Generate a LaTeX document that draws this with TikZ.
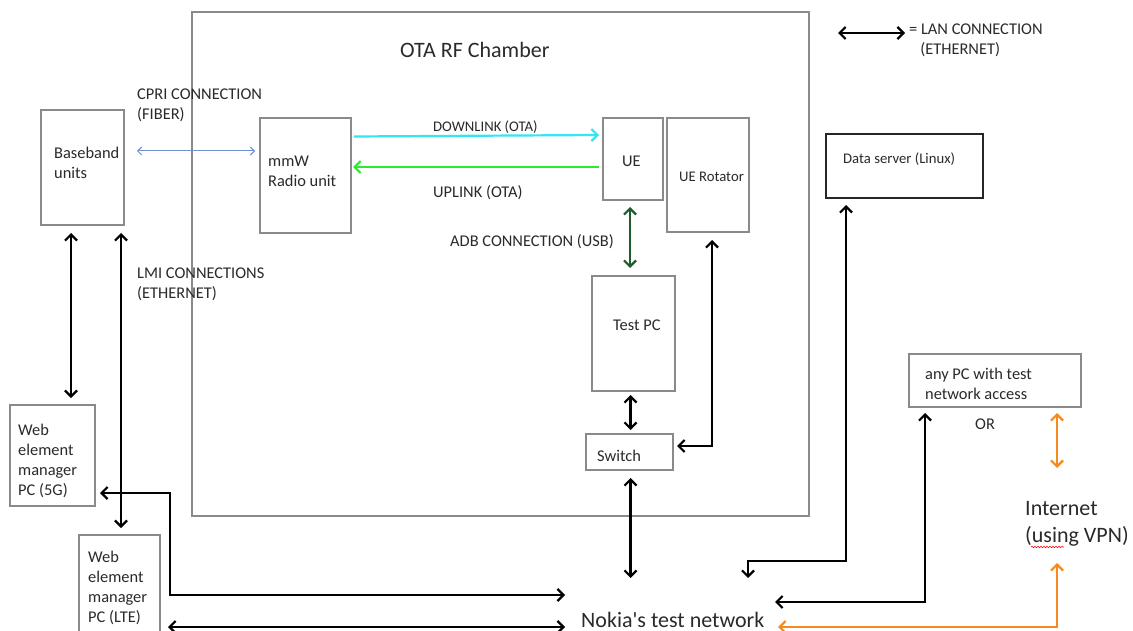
\documentclass[tikz,border=0pt]{standalone}
\usepackage{fontspec}
\setmainfont{Carlito}
\newfontfamily\plainfont{Carlito}
\usetikzlibrary{arrows.meta,calc,decorations.pathmorphing}
\definecolor{boxgray}{HTML}{8A8A8A}
\definecolor{txt}{HTML}{2A2A2A}
\definecolor{cpricol}{HTML}{6E8FD2}
\definecolor{dlcol}{HTML}{33E6F2}
\definecolor{ulcol}{HTML}{2EEA2E}
\definecolor{adbcol}{HTML}{1F5C2C}
\definecolor{orng}{HTML}{F58A1F}
\begin{document}
\begin{tikzpicture}[x=1pt,y=-1pt,
  box/.style={draw=boxgray,line width=1.2pt,inner sep=0pt,outer sep=0pt},
  dbox/.style={draw=black!85,line width=1.2pt,inner sep=0pt,outer sep=0pt},
  lbl/.style={text=txt,inner sep=0pt,anchor=west,align=left,font=\fontsize{16.4}{20}\selectfont},
  slbl/.style={lbl,font=\fontsize{14.7}{18}\selectfont},
  big/.style={text=txt,inner sep=0pt,anchor=west,align=left,font=\fontsize{22}{27}\selectfont},
  tip/.tip={Straight Barb[length=6pt,width=12pt]},
  lan/.style={draw=black,line width=2.2pt,tip-tip},
  cpri/.style={draw=cpricol,line width=1pt,{Straight Barb[length=4pt,width=8pt]}-{Straight Barb[length=4pt,width=8pt]}},
  dl/.style={draw=dlcol,line width=2.2pt,-tip},
  ul/.style={draw=ulcol,line width=2.2pt,-tip},
  adb/.style={draw=adbcol,line width=2.2pt,tip-tip},
  vpn/.style={draw=orng,line width=2.2pt,tip-tip}]
\useasboundingbox (0,0) rectangle (1133,631);
\fill[white] (0,0) rectangle (1133,631);

% boxes
\node[box,minimum width=617pt,minimum height=504pt] (chamber) at (500.5,264) {};
\node[box,minimum width=83pt,minimum height=115pt] (bb) at (82.5,167.5) {};
\node[box,minimum width=91pt,minimum height=115pt] (mmw) at (305.5,175.5) {};
\node[box,minimum width=60pt,minimum height=82pt] (ue) at (633,159) {};
\node[box,minimum width=82pt,minimum height=114pt] (rot) at (708,175) {};
\node[box,minimum width=83pt,minimum height=115pt] (testpc) at (633.5,333.5) {};
\node[box,minimum width=87pt,minimum height=36pt] (switch) at (629.5,452) {};
\node[dbox,minimum width=157pt,minimum height=64pt] (ds) at (904.5,166) {};
\node[box,minimum width=172pt,minimum height=53pt] (apc) at (995,380.5) {};
\node[box,minimum width=85pt,minimum height=101pt] (wem5) at (52.5,455.5) {};
\node[box,minimum width=81pt,minimum height=110pt] (wemlte) at (119.5,590) {};

% texts
\node[big] (title) at (400,50) {OTA RF Chamber};
\node[lbl] (bbt) at (54,163) {Baseband\\units};
\node[lbl] (mmwt) at (268,171) {mmW\\Radio unit};
\node[lbl] (uet) at (622,161) {UE};
\node[slbl] (rott) at (679,177) {UE Rotator};
\node[lbl] (testpct) at (613,325) {Test PC};
\node[lbl] (switcht) at (597,456) {Switch};
\node[slbl] (dst) at (843,159) {Data server (Linux)};
\node[lbl] (apct) at (925,384) {any PC with test\\network access};
\node[lbl] (wem5t) at (18,461) {Web\\element\\manager\\PC (5G)};
\node[lbl] (wemltet) at (88,588) {Web\\element\\manager\\PC (LTE)};
\node[lbl] (cprit) at (137,105) {CPRI CONNECTION\\(FIBER)};
\node[lbl] (lmit) at (137,284) {LMI CONNECTIONS\\(ETHERNET)};
\node[slbl] (dlt) at (433,127) {DOWNLINK (OTA)};
\node[lbl] (ult) at (433,193) {UPLINK (OTA)};
\node[lbl] (adbt) at (450,242) {ADB CONNECTION (USB)};
\node[lbl] (legt) at (909,40) {= LAN CONNECTION\\\ \ \ (ETHERNET)};
\node[lbl] (ort) at (975,424) {OR};
\node[big] (nokia) at (581,620) {\plainfont Nokia's test network};
\node[big] (inet) at (1025,524) {Internet\\(using VPN)};
\draw[red,line width=0.6pt,decorate,decoration={snake,amplitude=0.7pt,segment length=3pt}] (1031,547) -- (1064,547);

% legend
\coordinate (leg1) at (838,33);
\coordinate (leg2) at (905,33);
\draw[lan] (leg1) -- (leg2);

% connectors
\draw[cpri] ($(bb.east)+(13,-16.5)$) -- ($(mmw.west)+(-5,-24.5)$);
\draw[dl] ($(mmw.east)+(3,-39)$) -- ($(ue.west)+(-4,-24)$);
\draw[ul] ($(ue.west)+(-4,8)$) -- ($(mmw.east)+(2,-8.5)$);
\draw[adb] ($(ue.south)+(-3,7)$) -- ($(testpc.north)+(-3.5,-8)$);
\draw[lan] ($(testpc.south)+(-3,4)$) -- ($(switch.north)+(1,-4)$);
\coordinate (nk-sw) at (630.5,578);
\draw[lan] ($(switch.south)+(1,8)$) -- (nk-sw);
\draw[lan] ($(rot.south)+(4,8)$) |- ($(switch.east)+(4,-6)$);
\draw[lan] ($(bb.south)+(-11.5,8)$) -- ($(wem5.north)+(18.5,-7)$);
\draw[lan] ($(bb.south)+(38.5,8)$) -- ($(wemlte.north)+(1.5,-7)$);
\coordinate (nk-ds) at (748,578);
\draw[lan] ($(ds.south west)+(20,7)$) -- (846,561) -- (748,561) -- (nk-ds);
\coordinate (nk-apc) at (775,602);
\draw[lan] ($(apc.south west)+(16,6)$) |- (nk-apc);
\coordinate (in-top) at (1057,468);
\draw[vpn] ($(apc.south east)+(-24,6)$) -- (in-top);
\coordinate (in-bot) at (1057,563);
\coordinate (nk-in) at (778,627);
\draw[vpn] (in-bot) |- (nk-in);
\coordinate (nk-w5) at (565,595);
\draw[lan] ($(wem5.east)+(5,37.5)$) -- (170,493) |- (nk-w5);
\coordinate (nk-lte) at (565,627);
\draw[lan] ($(wemlte.east)+(8,37)$) -- (nk-lte);
\end{tikzpicture}
\end{document}
